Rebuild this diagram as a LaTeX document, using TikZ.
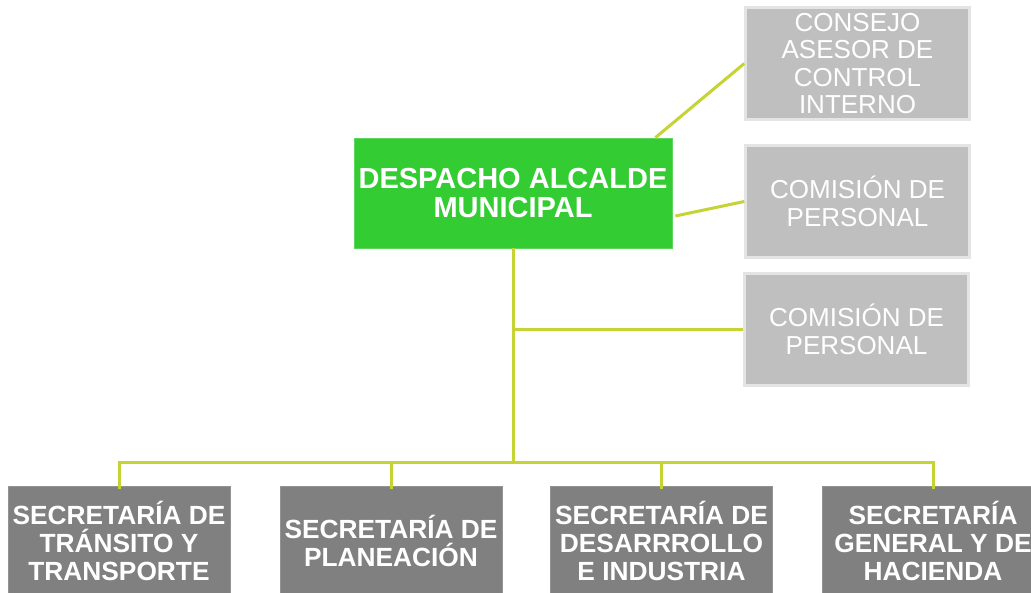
\documentclass[tikz,border=0pt]{standalone}
\usepackage{fontspec}
\setmainfont{Liberation Sans}
\definecolor{conn}{RGB}{197,212,52}
\definecolor{grn}{RGB}{51,204,51}
\definecolor{lgray}{RGB}{191,191,191}
\definecolor{lborder}{RGB}{228,228,228}
\definecolor{dgray}{RGB}{128,128,128}
\begin{document}
\begin{tikzpicture}[x=1pt,y=-1pt,
  conn/.style={draw=conn,line width=3pt},
  headbox/.style={fill=grn,draw=grn!80!white,line width=0.8pt,minimum width=318pt,minimum height=110pt,inner sep=0pt,align=center,text=white,font=\bfseries\fontsize{29}{29}\selectfont},
  sidebox/.style={fill=lgray,draw=lborder,line width=2.5pt,minimum width=224pt,minimum height=112pt,inner sep=0pt,align=center,text=white,font=\fontsize{26}{27.4}\selectfont},
  secbox/.style={fill=dgray,draw=dgray!85!white,line width=0.8pt,minimum width=222pt,minimum height=110pt,inner sep=0pt,align=center,text=white,font=\bfseries\fontsize{26.3}{28}\selectfont}]
\useasboundingbox (0,0) rectangle (1031,593);
\fill[white] (0,0) rectangle (1031,593);
\node[headbox] (head) at (513,193) {DESPACHO ALCALDE\\MUNICIPAL};
\node[sidebox] (c1) at (857.5,63.5) {CONSEJO\\ASESOR DE\\CONTROL\\INTERNO};
\node[sidebox] (c2) at (857.5,201.5) {COMISIÓN DE\\PERSONAL};
\node[sidebox] (c3) at (856.5,329.5) {COMISIÓN DE\\PERSONAL};
\node[secbox] (s1) at (119,541) {SECRETARÍA DE\\TRÁNSITO Y\\TRANSPORTE};
\node[secbox] (s2) at (391,541) {SECRETARÍA DE\\PLANEACIÓN};
\node[secbox] (s3) at (661.5,541) {SECRETARÍA DE\\DESARRROLLO\\E INDUSTRIA};
\node[secbox] (s4) at (933,541) {SECRETARÍA\\GENERAL Y DE\\HACIENDA};
\coordinate (bus) at (513,462);
\draw[conn] ([xshift=-17pt]head.north east) -- (c1.west);
\draw[conn] ([shift={(3,23)}]head.east) -- (c2.west);
\draw[conn] (head.south) -- (bus);
\draw[conn] (c3.west) -- (c3.west -| head.south);
\draw[conn] ([yshift=-3pt]s1.north) -- (s1.north |- bus) -- (s4.north |- bus) -- ([yshift=-3pt]s4.north);
\draw[conn] ([yshift=-3pt]s2.north) -- (s2.north |- bus);
\draw[conn] ([yshift=-3pt]s3.north) -- (s3.north |- bus);
\end{tikzpicture}
\end{document}
